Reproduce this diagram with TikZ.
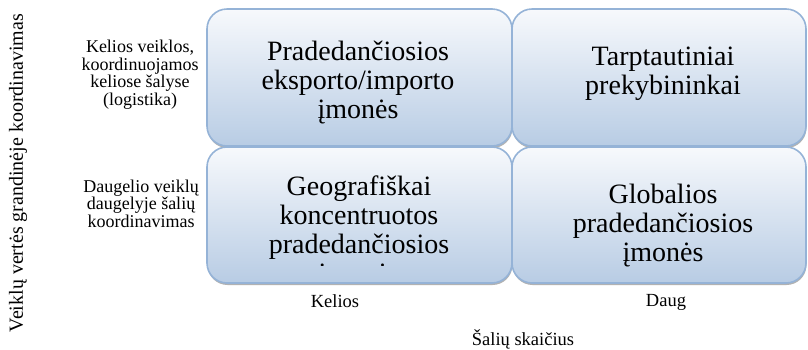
\documentclass[tikz,border=0pt]{standalone}
\usepackage{fontspec}
\setmainfont{Liberation Serif}
\usetikzlibrary{shadows}

\definecolor{cellline}{RGB}{149,179,215}
\definecolor{celltop}{RGB}{247,249,252}
\definecolor{cellbottom}{RGB}{184,204,228}

\tikzset{
  cell/.style={draw=cellline, line width=1.6pt, rounded corners=20pt,
    top color=celltop, bottom color=cellbottom, inner sep=0pt,
    drop shadow={shadow xshift=0.5pt, shadow yshift=-2pt, fill=gray!60, opacity=1}},
  celltext/.style={font=\fontsize{28}{29}\selectfont, align=center, inner sep=0pt},
  rowtext/.style={font=\fontsize{18}{17.5}\selectfont, align=center, inner sep=0pt},
  axistext/.style={font=\fontsize{18.5}{20}\selectfont, inner sep=0pt}
}

\begin{document}
\begin{tikzpicture}[x=1pt, y=-1pt]
  \useasboundingbox (0,0) rectangle (808,349);

  \node [cell, minimum width=305pt, minimum height=137pt] (tl) at (359.5,77.5) {};
  \node [cell, minimum width=294pt, minimum height=137pt] (tr) at (659,77.5) {};
  \node [cell, minimum width=305pt, minimum height=136pt] (bl) at (359.5,215) {};
  \node [cell, minimum width=294pt, minimum height=136pt] (br) at (659,215) {};

  \node [celltext] (tltext) at (358,83) {Pradedančiosios\\eksporto/importo\\įmonės};
  \node [celltext] (trtext) at (663,74) {Tarptautiniai\\prekybininkai};
  \begin{scope}
    \clip (207,147) rectangle (512,265);
    \node [celltext] (bltext) at (359,232) {Geografiškai\\koncentruotos\\pradedančiosios\\įmonės};
  \end{scope}
  \node [celltext] (brtext) at (663,226) {Globalios\\pradedančiosios\\įmonės};

  \node [rowtext] (rowone) at (140,74.8) {Kelios veiklos,\\koordinuojamos\\keliose šalyse\\(logistika)};
  \node [rowtext] (rowtwo) at (141,203.4) {Daugelio veiklų\\daugelyje šalių\\koordinavimas};

  \node [axistext, font=\fontsize{20}{22}\selectfont, rotate=90] (yaxis) at (18,173) {Veiklų vertės grandinėje koordinavimas};
  \node [axistext, anchor=base] (colone) at (335,307) {Kelios};
  \node [axistext, anchor=base] (coltwo) at (666,306) {Daug};
  \node [axistext, anchor=base] (xaxis) at (523,345) {Šalių skaičius};
\end{tikzpicture}
\end{document}
